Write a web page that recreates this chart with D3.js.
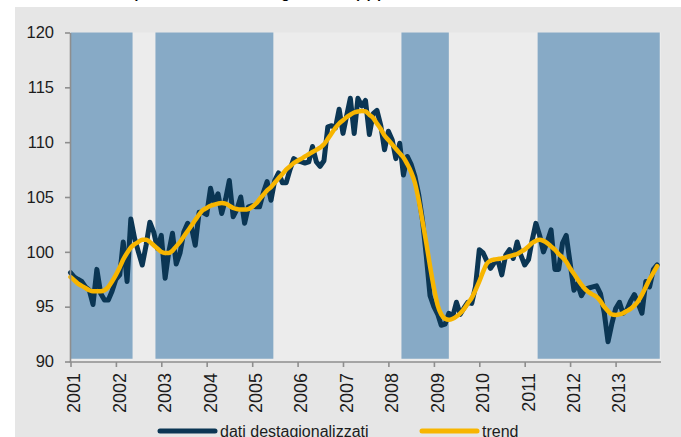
<!DOCTYPE html>
<html lang="it">
<head>
<meta charset="utf-8">
<style>
  body { margin: 0; background: #fff; }
  svg { display: block; font-family: 'Liberation Sans', Arial, Helvetica, sans-serif; }
  .axis path, .axis line { stroke: #8e8e8e; stroke-width: 1.6px; fill: none; }
  .axis text { fill: #1c1c1c; }
  .serie { fill: none; stroke-linejoin: round; stroke-linecap: round; }
</style>
</head>
<body>
<svg width="681" height="437"></svg>
<script src="https://cdn.jsdelivr.net/npm/d3@7"></script>
<script>
// dati mensili gen 2001 - dic 2013
const primoMese = new Date(2001, 0, 1)

const datiDestag = [
  98.1, 97.7, 97.5, 97.3, 96.8, 96.5, 95.2, 98.4, 96.2, 95.6, 95.6, 96.4,       // 2001
  97.5, 97.9, 100.9, 97.3, 103.0, 101.2, 100.0, 98.8, 100.6, 102.7, 101.8, 100.3, // 2002
  101.5, 97.6, 99.9, 101.7, 98.9, 99.9, 101.8, 102.6, 102.2, 100.6, 103.6, 103.6, // 2003
  103.4, 105.8, 104.4, 105.3, 103.5, 104.8, 106.5, 103.2, 103.9, 105.0, 102.6, 104.1, // 2004
  104.2, 104.1, 104.1, 105.4, 106.4, 104.7, 106.5, 107.2, 106.3, 106.3, 107.5, 108.5, // 2005
  108.3, 108.2, 108.1, 108.2, 109.6, 108.2, 107.8, 108.3, 111.4, 111.5, 111.3, 113.0, // 2006
  110.8, 112.5, 114.0, 110.8, 114.0, 113.3, 113.8, 110.7, 112.6, 112.9, 111.5, 109.3, // 2007
  111.0, 110.2, 108.5, 109.9, 107.0, 108.7, 108.0, 106.9, 105.2, 102.9, 99.6, 96.0,   // 2008
  95.0, 94.3, 93.3, 93.4, 94.4, 94.1, 95.4, 94.3, 94.9, 95.4, 95.3, 96.8,            // 2009
  100.2, 99.9, 99.2, 98.5, 99.0, 99.2, 97.9, 99.7, 100.2, 99.4, 100.9, 99.7,        // 2010
  98.8, 99.3, 101.0, 102.6, 101.5, 100.0, 100.9, 102.0, 98.4, 98.4, 100.8, 101.5,   // 2011
  99.0, 96.5, 97.1, 96.0, 96.6, 96.7, 96.8, 96.9, 96.2, 94.5, 91.8, 93.4,           // 2012
  94.8, 95.4, 94.4, 94.7, 95.5, 96.1, 95.3, 94.4, 97.3, 96.8, 98.4, 98.8            // 2013
]

const trend = [
  97.7, 97.4, 97.1, 96.9, 96.7, 96.5, 96.4, 96.4, 96.4, 96.5, 96.8, 97.3,
  97.9, 98.6, 99.3, 99.9, 100.4, 100.7, 100.9, 101.1, 101.1, 100.9, 100.6, 100.3,
  100.0, 99.9, 99.9, 100.1, 100.5, 100.9, 101.4, 101.9, 102.4, 102.9, 103.4, 103.8,
  104.0, 104.2, 104.3, 104.4, 104.45, 104.4, 104.2, 104.0, 103.9, 103.85, 103.85, 103.9,
  104.1, 104.4, 104.8, 105.2, 105.6, 105.9, 106.3, 106.7, 107.1, 107.5, 107.8, 108.1,
  108.3, 108.5, 108.7, 108.9, 109.1, 109.3, 109.5, 109.8, 110.3, 110.8, 111.3, 111.7,
  112.0, 112.3, 112.5, 112.7, 112.8, 112.85, 112.8, 112.5, 112.2, 111.7, 111.2, 110.6,
  110.2, 109.8, 109.4, 109.0, 108.6, 108.0, 107.3, 106.3, 104.7, 102.8, 100.8, 98.7,
  96.7, 95.1, 94.3, 93.9, 93.8, 93.9, 94.1, 94.4, 94.8, 95.3, 95.8, 96.5,
  97.3, 98.2, 98.9, 99.2, 99.3, 99.35, 99.4, 99.5, 99.6, 99.7, 99.8, 100.0,
  100.2, 100.5, 100.8, 101.0, 101.1, 101.0, 100.8, 100.5, 100.2, 99.8, 99.5, 99.1,
  98.5, 98.0, 97.5, 97.0, 96.6, 96.3, 96.1, 95.9, 95.5, 95.0, 94.6, 94.3,
  94.25, 94.3, 94.4, 94.6, 94.8, 95.1, 95.5, 96.1, 96.8, 97.5, 98.1, 98.7
]

// fasi evidenziate (sfondo blu)
const fasiInizio = ["2001-01-01", "2002-11-15", "2008-04-15", "2011-04-15"]
const fasiFine = ["2002-05-15", "2005-06-20", "2009-05-01", "2013-12-22"]

const yTicks = [90, 95, 100, 105, 110, 115, 120]
const anni = d3.range(2001, 2014)
const voci = ["dati destagionalizzati", "trend"]
const colori = ["#0b3654", "#f7b500"]

const svg = d3.select("svg")
const parse = d3.timeParse("%Y-%m-%d")

const x = d3.scaleTime()
  .domain([new Date(2001, 0, 1), new Date(2014, 0, 1)])
  .range([70.5, 661])
const y = d3.scaleLinear().domain([90, 120]).range([361.5, 32.5])

// sfondo
svg.append("rect").attr("x", 15).attr("y", 7).attr("width", 666).attr("height", 430)
  .attr("fill", "#e6e6e6")
svg.append("rect").attr("x", x.range()[0]).attr("y", y(120))
  .attr("width", x.range()[1] - x.range()[0]).attr("height", y(90) - y(120))
  .attr("fill", "#ececec")

// titolo (tagliato in alto)
svg.append("text")
  .attr("x", 133).attr("y", -2)
  .style("font-size", "14px").style("font-weight", "bold")
  .text("(indici 2005=100 destagionalizzati) (a)")

svg.append("g").selectAll("rect")
  .data(fasiInizio.map((d, i) => ({ a: parse(d), b: parse(fasiFine[i]) })))
  .join("rect")
  .attr("x", d => x(d.a))
  .attr("width", d => x(d.b) - x(d.a))
  .attr("y", y(120))
  .attr("height", y(90.25) - y(120))
  .attr("fill", "#87aac6")

const mesi = datiDestag.map((v, i) => d3.timeMonth.offset(primoMese, i))

const linea = d3.line()
  .x((d, i) => x(mesi[i]))
  .y(d => y(d))

svg.append("path").datum(datiDestag)
  .attr("class", "serie")
  .attr("stroke", colori[0]).attr("stroke-width", 5)
  .attr("d", linea)

svg.append("path").datum(trend)
  .attr("class", "serie")
  .attr("stroke", colori[1]).attr("stroke-width", 4.5)
  .attr("d", linea.curve(d3.curveMonotoneX))

// assi
svg.append("g")
  .attr("class", "axis")
  .attr("transform", "translate(70,0)")
  .call(d3.axisLeft(y).tickValues(yTicks).tickSize(5).tickSizeOuter(0).tickPadding(11))
  .selectAll("text").style("font-size", "16.5px")

const xAxis = svg.append("g")
  .attr("class", "axis")
  .attr("transform", "translate(0,362)")
  .call(d3.axisBottom(x)
    .tickValues(anni.map(a => new Date(a, 0, 1)))
    .tickFormat(d3.timeFormat("%Y"))
    .tickSize(5).tickSizeOuter(0))
xAxis.select(".domain").attr("d", "M69.5,0H661")
xAxis.selectAll("text")
  .style("font-size", "18px")
  .attr("text-anchor", "end")
  .attr("transform", "rotate(-90)")
  .attr("x", -11).attr("y", 0).attr("dy", "0.52em")

// legenda
const leg = svg.append("g").selectAll("g")
  .data(voci)
  .join("g")
  .attr("transform", (d, i) => `translate(${[160, 422][i]},431)`)
leg.append("line")
  .attr("x1", 0).attr("x2", 55)
  .attr("stroke", (d, i) => colori[i]).attr("stroke-width", 5)
  .attr("stroke-linecap", "round")
leg.append("text")
  .attr("x", 60).attr("y", 5.5)
  .style("font-size", "16px").attr("fill", "#1c1c1c")
  .text(d => d)
</script>
</body>
</html>
